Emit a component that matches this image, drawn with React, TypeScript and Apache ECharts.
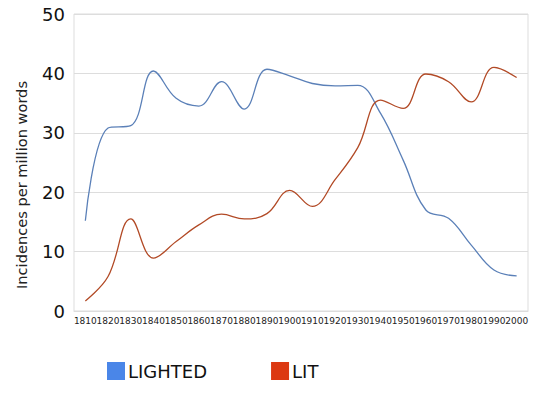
import React, { useEffect, useRef } from "react";
import * as echarts from "echarts";

const categories = ["1810","1820","1830","1840","1850","1860","1870","1880","1890","1900","1910","1920","1930","1940","1950","1960","1970","1980","1990","2000"];
const lighted = [15.2, 30.8, 31.2, 40.4, 35.8, 34.5, 38.6, 34.0, 40.7, 39.6, 38.3, 37.9, 38.0, 33.3, 25.4, 17.0, 15.6, 11.1, 6.9, 5.9];
const lit = [1.7, 5.8, 15.5, 8.9, 11.7, 14.5, 16.3, 15.5, 16.4, 20.3, 17.6, 22.1, 27.5, 35.5, 34.1, 39.9, 38.6, 35.2, 41.0, 39.3];
const yTitle = "Incidences per million words";

const FONT = "DejaVu Sans";

export default function App() {
  const ref = useRef<HTMLDivElement>(null);
  useEffect(() => {
    if (!ref.current) return;
    const chart = echarts.init(ref.current, null, { renderer: "svg" });
    chart.setOption({
      animation: false,
      backgroundColor: "#ffffff",
      textStyle: { fontFamily: FONT },
      grid: {
        left: 74,
        right: 12,
        top: 14,
        bottom: 94,
        show: true,
        borderColor: "#dddddd",
        borderWidth: 1,
      },
      legend: {
        left: 107,
        top: 362,
        padding: 0,
        itemWidth: 18,
        itemHeight: 18,
        itemGap: 64,
        icon: "rect",
        textStyle: { fontFamily: FONT, fontSize: 18, color: "#111", padding: [0, 0, 0, -2] },
        data: [
          { name: "LIGHTED", itemStyle: { color: "#4a86e8" } },
          { name: "LIT", itemStyle: { color: "#dc3912" } },
        ],
      },
      xAxis: {
        type: "category",
        data: categories,
        boundaryGap: true,
        axisLine: { show: true, lineStyle: { color: "#dddddd" } },
        axisTick: { show: false },
        axisLabel: { interval: 0, fontSize: 9, color: "#222", fontFamily: FONT, margin: 5 },
      },
      yAxis: {
        type: "value",
        min: 0,
        max: 50,
        interval: 10,
        axisLine: { show: false },
        axisTick: { show: false },
        axisLabel: { fontSize: 18, color: "#111", fontFamily: FONT, margin: 9 },
        splitLine: { lineStyle: { color: "#dddddd" } },
      },
      graphic: [
        {
          type: "text",
          x: 21,
          y: 185,
          rotation: Math.PI / 2,
          style: {
            text: yTitle,
            fontFamily: FONT,
            fontSize: 14.6,
            fill: "#222",
            textAlign: "center",
            textVerticalAlign: "middle",
          },
        },
      ],
      series: [
        {
          name: "LIGHTED",
          type: "line",
          data: lighted,
          smooth: 0.4,
          showSymbol: false,
          itemStyle: { color: "#4a86e8" },
          lineStyle: { color: "#5b80b8", width: 1.3 },
        },
        {
          name: "LIT",
          type: "line",
          data: lit,
          smooth: 0.4,
          showSymbol: false,
          itemStyle: { color: "#dc3912" },
          lineStyle: { color: "#b24a26", width: 1.3 },
        },
      ],
    });
    return () => chart.dispose();
  }, []);
  return (
    <div
      ref={ref}
      style={{ width: 540, height: 405, position: "fixed", left: 0, top: 0 }}
    />
  );
}
